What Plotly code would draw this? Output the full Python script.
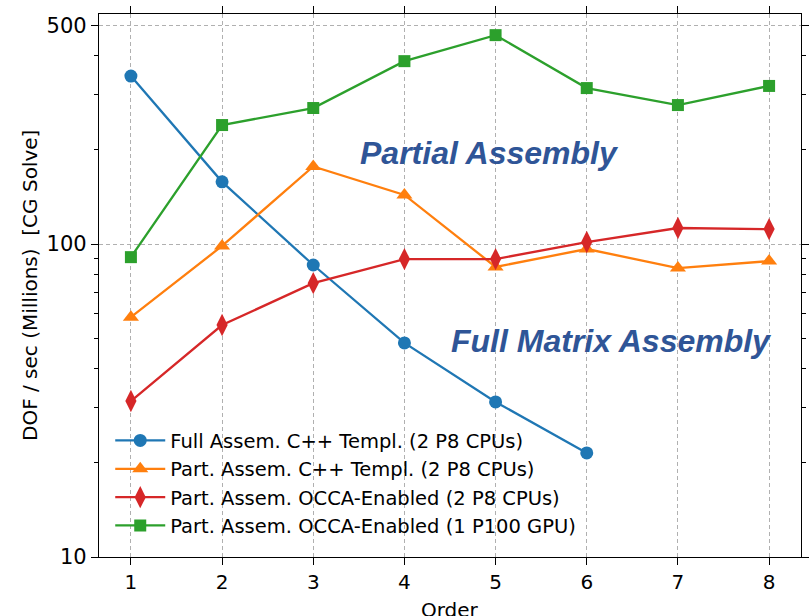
import plotly.graph_objects as go

orders = [1, 2, 3, 4, 5, 6, 7, 8]
full_cpp = [344, 158, 85.7, 48.3, 31.3, 21.5]
part_cpp = [58.4, 98.6, 177, 143.5, 84.5, 96.4, 83.8, 88.2]
part_occa_cpu = [31.5, 55.1, 75, 89.5, 89.5, 101.5, 112.5, 111.6]
part_occa_gpu = [90.8, 240, 272, 384, 465, 315, 278, 320]

names = [
    "Full Assem. C++ Templ. (2 P8 CPUs)",
    "Part. Assem. C++ Templ. (2 P8 CPUs)",
    "Part. Assem. OCCA-Enabled (2 P8 CPUs)",
    "Part. Assem. OCCA-Enabled (1 P100 GPU)",
]
series = [full_cpp, part_cpp, part_occa_cpu, part_occa_gpu]
colors = ["#1f77b4", "#ff7f0e", "#d62728", "#2ca02c"]
symbols = ["circle", "triangle-up", "diamond-tall", "square"]
sizes = [13, 14, 16, 12]

fig = go.Figure()
for nm, ys, c, s, sz in zip(names, series, colors, symbols, sizes):
    fig.add_trace(go.Scatter(
        x=orders[:len(ys)], y=ys, name=nm, mode="lines+markers",
        line=dict(color=c, width=2.3),
        marker=dict(symbol=s, size=sz, color=c, line=dict(width=0)),
    ))

W, H = 811 - 99 - 10, 616 - 14 - 59
blue_txt = "#2f5597"
fig.add_annotation(x=4.93, y=2.29, xref="x", yref="y", text="<b><i>Partial Assembly</i></b>",
                   showarrow=False, font=dict(family="Liberation Sans, Arial", size=32, color=blue_txt))
fig.add_annotation(x=6.27, y=1.69, xref="x", yref="y", text="<b><i>Full Matrix Assembly</i></b>",
                   showarrow=False, font=dict(family="Liberation Sans, Arial", size=32, color=blue_txt))
# axis titles
fig.add_annotation(x=(450 - 99) / W, y=(557 - 596) / H, xref="paper", yref="paper", text="Order",
                   showarrow=False, font=dict(size=20), xanchor="center", yanchor="top")
fig.add_annotation(text="DOF / sec (Millions)\u00a0\u00a0[CG Solve]", showarrow=False,
                   xref="paper", yref="paper", x=(30 - 99) / W, y=(557 - 286) / H,
                   xanchor="center", yanchor="middle", textangle=-90, font=dict(size=20))

fig.update_layout(
    width=811, height=616,
    margin=dict(l=99, r=10, t=14, b=59),
    paper_bgcolor="white", plot_bgcolor="white",
    font=dict(family="DejaVu Sans", size=20, color="black"),
    legend=dict(x=0.016, y=0.25, xanchor="left", yanchor="top", bgcolor="rgba(255,255,255,0)",
                font=dict(size=19.5), tracegroupgap=0, itemwidth=50),
    showlegend=True,
)

fig.update_xaxes(
    range=[0.65, 8.35], tickvals=orders, ticks="outside", ticklen=7, tickcolor="black", tickwidth=1.2,
    showline=True, linecolor="black", linewidth=1.3, mirror="allticks",
    showgrid=True, gridcolor="#b0b0b0", griddash="4px,3px", gridwidth=1,
    zeroline=False, tickfont=dict(size=20), automargin=False,
)
fig.update_yaxes(
    type="log", range=[1, 2.735], tickvals=[10, 100, 500], ticktext=["10", "100", "500"],
    ticks="outside", ticklen=7, tickcolor="black", tickwidth=1.2,
    showline=True, linecolor="black", linewidth=1.3, mirror="allticks",
    showgrid=True, gridcolor="#b0b0b0", griddash="4px,3px", gridwidth=1,
    zeroline=False, tickfont=dict(size=21), automargin=False,
    minor=dict(tickvals=[20, 30, 40, 50, 60, 70, 80, 90, 200, 300, 400], ticks="outside",
               ticklen=4, tickcolor="black", tickwidth=1, showgrid=False),
)

fig.write_html("out.html", config={"displayModeBar": False},
               post_script="document.body.style.margin='0';")
